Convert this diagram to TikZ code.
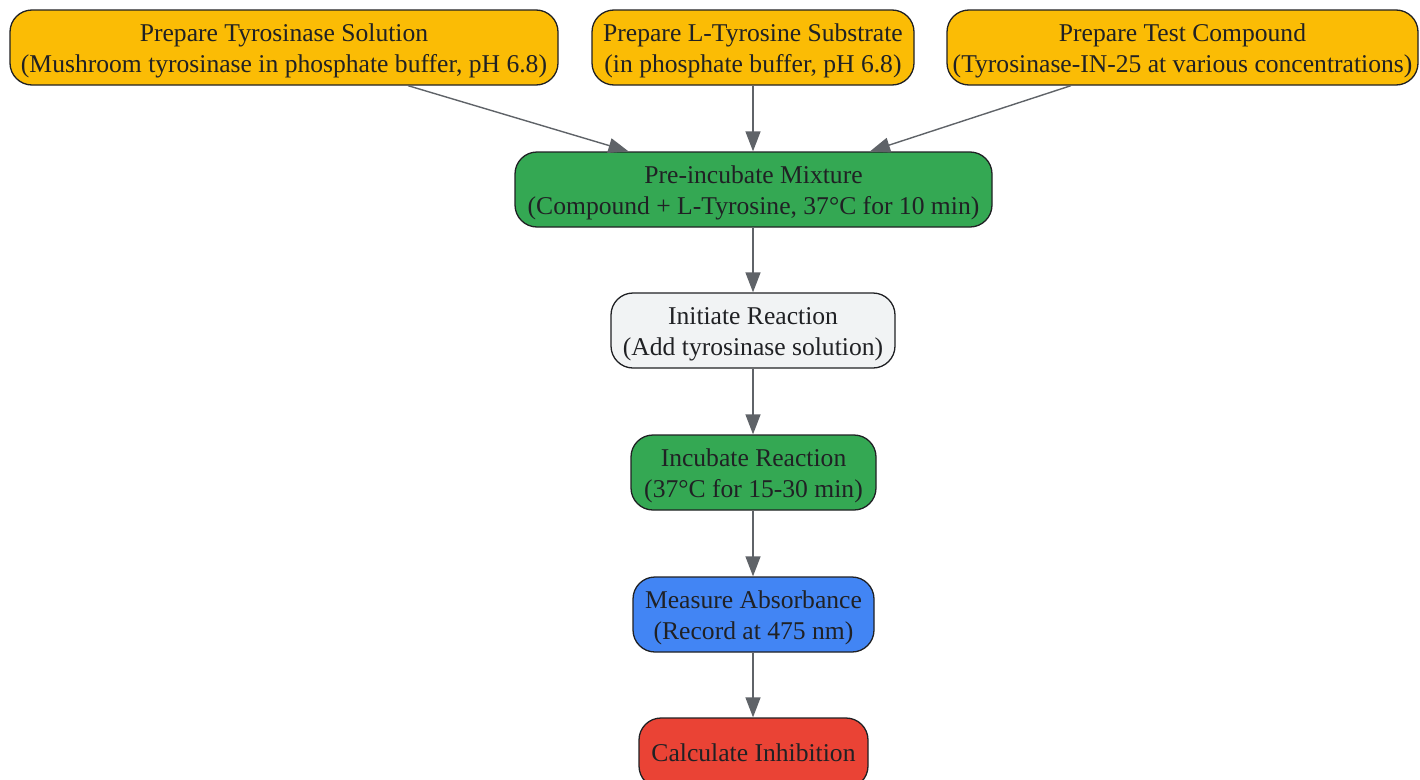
\documentclass[tikz,border=0pt]{standalone}
\usepackage{fontspec}
\setmainfont{Liberation Serif}
\usetikzlibrary{arrows.meta}
\definecolor{ylw}{HTML}{FBBC05}
\definecolor{grn}{HTML}{34A853}
\definecolor{blu}{HTML}{4285F4}
\definecolor{redc}{HTML}{EA4335}
\definecolor{lgr}{HTML}{F1F3F4}
\definecolor{txt}{HTML}{202124}
\definecolor{edgec}{HTML}{5F6368}
\newcommand{\topstrut}{\rule{0pt}{24pt}}
\begin{document}
\begin{tikzpicture}[x=1pt,y=-1pt,
 box/.style={draw=txt, line width=1.3pt, rounded corners=22pt, align=center, text=txt,
   font=\fontsize{25.6}{31}\selectfont, inner sep=0pt, minimum height=75pt},
 conn/.style={draw=edgec, line width=1.4pt, -{Triangle[length=20pt,width=15pt]}}]
\useasboundingbox (0,0) rectangle (1420,779);
\node[box, fill=ylw, minimum width=548pt] (a) at (284,47.5) {\topstrut Prepare Tyrosinase Solution\\(Mushroom tyrosinase in phosphate buffer, pH 6.8)};
\node[box, fill=ylw, minimum width=322pt] (b) at (753,47.5) {\topstrut Prepare L-Tyrosine Substrate\\(in phosphate buffer, pH 6.8)};
\node[box, fill=ylw, minimum width=471pt] (c) at (1182.5,47.5) {\topstrut Prepare Test Compound\\(Tyrosinase-IN-25 at various concentrations)};
\node[box, fill=grn, minimum width=477pt] (d) at (753.5,189.5) {\topstrut Pre-incubate Mixture\\(Compound + L-Tyrosine, 37°C for 10 min)};
\node[box, fill=lgr, minimum width=284pt] (e) at (753,330.5) {\topstrut Initiate Reaction\\(Add tyrosinase solution)};
\node[box, fill=grn, minimum width=245pt] (f) at (753.5,472.5) {\topstrut Incubate Reaction\\(37°C for 15-30 min)};
\node[box, fill=blu, minimum width=241pt] (g) at (753.5,614.5) {\topstrut Measure Absorbance\\(Record at 475 nm)};
\node[box, fill=redc, minimum width=229pt, minimum height=70pt] (h) at (753.5,753) {Calculate Inhibition};
\draw[conn] ([xshift=124pt]a.south) -- ([xshift=-125pt]d.north);
\draw[conn] (b.south) -- (d.north -| b.south);
\draw[conn] ([xshift=-111.5pt]c.south) -- ([xshift=116.5pt]d.north);
\draw[conn] (d.south -| e.north) -- (e.north);
\draw[conn] (e.south) -- (f.north -| e.south);
\draw[conn] (f.south -| e.south) -- (g.north -| e.south);
\draw[conn] (g.south -| e.south) -- (h.north -| e.south);
\end{tikzpicture}
\end{document}
